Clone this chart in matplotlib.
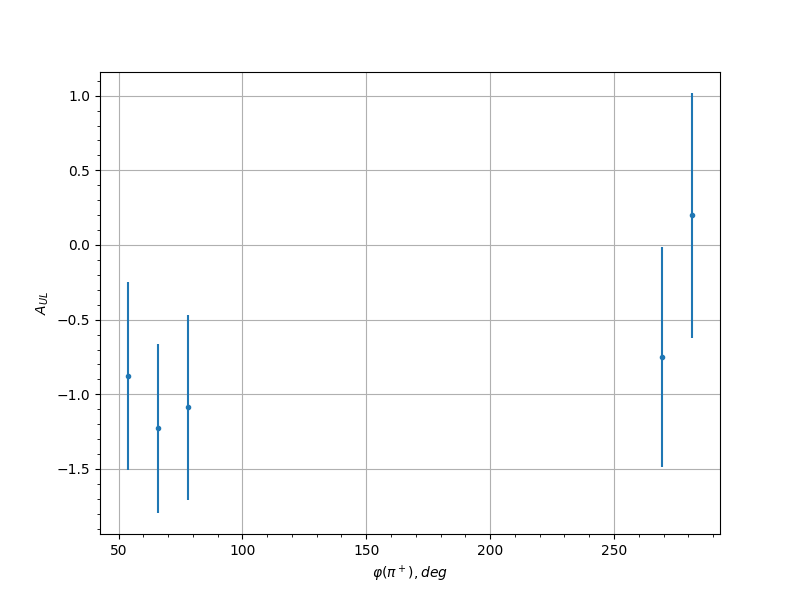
import matplotlib
matplotlib.use("Agg")
import matplotlib.pyplot as plt

phi = [53.9, 66.0, 78.1, 269.3, 281.4]
a_ul = [-0.879, -1.229, -1.087, -0.750, 0.198]
a_err = [0.629, 0.566, 0.618, 0.734, 0.820]

fig, ax = plt.subplots(figsize=(8, 6), dpi=100)
ax.errorbar(phi, a_ul, yerr=a_err, fmt='.')
ax.set_xlabel(r'$\varphi(\pi^+), deg$')
ax.set_ylabel(r'$A_{UL}$')
ax.minorticks_on()
ax.grid(True, which='major')
fig.savefig("out.png", dpi=100)
